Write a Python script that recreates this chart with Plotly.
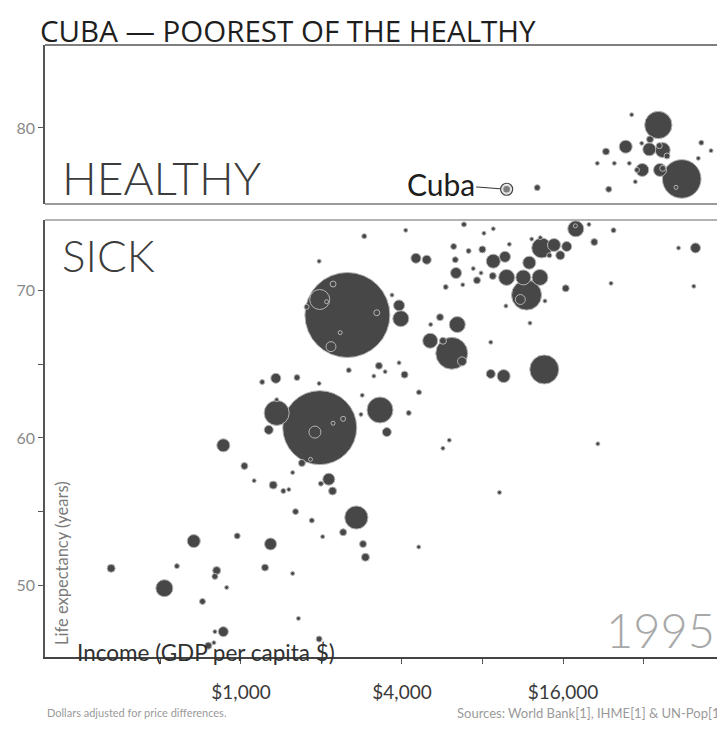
import plotly.graph_objects as go
import pandas as pd
import numpy as np


# ---------------------------------------------------
# DATA (1995): income per person, life expectancy, population (millions)
# ---------------------------------------------------

income = [
    2890, 4130, 6820, 8100, 8780, 1960, 4510, 4950, 6240, 7100,
    7990, 8780, 6330, 6370, 5830, 7630, 7900, 8740, 7390, 6750,
    3670, 2500, 1970, 2210, 3220, 2350, 2170, 1760, 2090, 3900,
    3960, 5550, 5120, 6440, 5100, 6140, 5690, 6710, 8590, 3280,
    2530, 3900, 3460, 4090, 3140, 1620, 1350, 1200, 8590, 9600,
    13620, 1960, 4630, 2840, 3310, 4240, 2810, 3510, 1970, 1890,
    2410, 2210, 1360, 1270, 1360, 859, 6010, 5690, 21600, 1030,
    1120, 1320, 1440, 1510, 1560, 1690, 1820, 1990, 2130, 2200,
    1600, 1840, 2700, 2410, 2020, 2860, 2920, 4620, 666, 968,
    1290, 1230, 1560, 327, 576, 811, 799, 884, 517, 718,
    1640, 859, 799, 755, 792, 1960, 9260, 13700, 12040, 9790,
    11690, 11080, 9850, 11370, 13120, 11970, 9710, 13320, 14810, 16520,
    15630, 12220, 13160, 14220, 10080, 17860, 17800, 20010, 24720, 20950,
    43260, 50070, 24190, 49340, 16380,
    12820, 23720, 36350, 28900, 27460, 23170, 21500, 24890, 28320, 31510,
    33850, 33640, 37750, 39180, 36660, 31670, 30260, 36880, 37750, 44470,
    42340, 52640, 57230, 51300, 29820,
]

life_expectancy = [
    73.7, 74.1, 74.5, 73.9, 74.2, 72.0, 72.2, 72.1, 73.0, 72.7,
    72.8, 72.0, 72.1, 71.2, 70.25, 70.7, 71.2, 71.0, 71.5, 70.4,
    69.7, 68.35, 69.4, 70.45, 68.5, 67.15, 66.2, 68.9, 69.25, 69.0,
    68.1, 68.2, 67.7, 67.7, 66.6, 65.75, 66.6, 65.2, 66.5, 64.9,
    64.6, 65.1, 64.5, 64.3, 64.2, 64.1, 64.05, 63.8, 64.35, 64.2,
    64.65, 63.7, 63.1, 62.9, 61.9, 61.7, 61.6, 60.4, 60.7, 60.4,
    61.3, 61.0, 61.7, 60.55, 62.6, 59.5, 59.85, 59.3, 59.6, 58.1,
    57.1, 56.8, 56.4, 56.5, 57.65, 58.3, 58.55, 56.9, 57.2, 56.4,
    55.0, 54.4, 54.6, 53.6, 53.3, 52.8, 51.9, 52.6, 53.0, 53.35,
    52.8, 51.2, 50.8, 51.15, 51.3, 51.0, 50.6, 49.85, 49.8, 48.9,
    47.75, 46.85, 46.85, 45.9, 46.1, 46.35, 56.3, 69.3, 67.8, 68.96,
    69.7, 69.4, 70.9, 70.9, 70.9, 71.9, 72.3, 72.9, 73.1, 73.0,
    72.4, 73.5, 73.6, 72.4, 73.15, 74.2, 74.4, 74.5, 74.1, 73.3,
    72.9, 72.9, 70.5, 70.3, 70.16,
    75.95, 75.84, 80.2, 80.9, 78.73, 78.4, 77.6, 77.6, 77.6, 78.96,
    79.23, 78.55, 78.5, 78.1, 78.8, 77.15, 77.15, 77.15, 77.26, 76.54,
    75.97, 79.0, 78.46, 77.94, 76.35,
]

population = [
    4.2, 2.7, 4.2, 0.7, 2.7, 2.7, 16.7, 13.6, 6.0, 4.2,
    8.2, 32.8, 6.0, 20.3, 4.2, 8.2, 2.7, 8.2, 0.7, 0.7,
    0.7, 1210, 67, 6.0, 6.0, 1.5, 16.7, 4.2, 2.7, 20.3,
    42.9, 8.2, 0.7, 42.9, 37.7, 171, 8.2, 13.6, 1.5, 8.2,
    4.2, 0.7, 0.7, 8.2, 0.7, 6.0, 16.7, 4.2, 13.6, 28.3,
    141, 1.5, 4.2, 1.5, 113, 4.2, 2.7, 13.6, 917, 24.1,
    4.2, 2.7, 105, 13.6, 0.7, 28.3, 1.5, 0.7, 1.5, 8.2,
    2.7, 10.7, 4.2, 2.7, 1.5, 8.2, 1.5, 4.2, 24.1, 10.7,
    6.0, 4.2, 90, 8.2, 2.7, 8.2, 10.7, 2.7, 28.3, 6.0,
    24.1, 8.2, 1.5, 10.7, 4.2, 10.7, 6.0, 2.7, 48.4, 6.0,
    0.7, 16.7, 2.7, 8.2, 1.5, 6.0, 1.5, 1.5, 1.5, 2.7,
    151, 16.7, 42.9, 37.7, 42.9, 28.3, 20.3, 67, 28.3, 16.7,
    13.6, 1.5, 1.5, 4.2, 0.7, 42.9, 2.7, 1.5, 4.2, 8.2,
    1.5, 16.7, 1.5, 1.5, 8.2,
    6.0, 6.0, 125, 0.7, 28.3, 8.2, 0.7, 2.7, 2.7, 1.5,
    8.2, 28.3, 37.7, 6.0, 6.0, 28.3, 4.2, 28.3, 6.0, 250,
    2.7, 4.2, 2.7, 1.5, 2.7,
]

cuba_income = [9850]
cuba_life = [75.84]
cuba_population = [11]

x_tick_values = [500, 1000, 2000, 4000, 8000, 16000, 32000]
x_tick_labels = ["", "$1,000", "", "$4,000", "", "$16,000", ""]
y_tick_values = [50, 55, 60, 65, 70]
y_tick_labels = ["50", "", "60", "", "70"]
y2_tick_values = [80]
y2_tick_labels = ["80"]

healthy_cut = 74.8


# ---------------------------------------------------
# STYLE
# ---------------------------------------------------

font_family = "Lato, 'Open Sans', sans-serif"
title_family = "'Open Sans', Lato, sans-serif"
bubble_fill = "#474747"
bubble_edge = "#b4b4b4"
max_bubble_px = 85


df = pd.DataFrame({
    "income": income,
    "life": life_expectancy,
    "pop": population,
})
df = df.sort_values("pop", ascending=False)

sizeref = 2.0 * df["pop"].max() / (max_bubble_px ** 2)

sick = df[df["life"] < healthy_cut]
healthy = df[df["life"] >= healthy_cut]


def bubble_trace(data, xaxis, yaxis):

    return go.Scatter(
        x=data["income"],
        y=data["life"],
        xaxis=xaxis,
        yaxis=yaxis,
        mode="markers",
        marker=dict(
            size=data["pop"],
            sizemode="area",
            sizeref=sizeref,
            sizemin=2,
            color=bubble_fill,
            opacity=1,
            line=dict(color=bubble_edge, width=1),
        ),
        hoverinfo="skip",
        showlegend=False,
    )


fig = go.Figure()

fig.add_trace(bubble_trace(sick, "x", "y"))
fig.add_trace(bubble_trace(healthy, "x2", "y2"))

# Cuba, highlighted
fig.add_trace(go.Scatter(
    x=cuba_income,
    y=cuba_life,
    xaxis="x2",
    yaxis="y2",
    mode="markers",
    marker=dict(
        size=cuba_population,
        sizemode="area",
        sizeref=sizeref,
        color=bubble_fill,
        line=dict(color="#cfcfcf", width=1.5),
    ),
    hoverinfo="skip",
    showlegend=False,
))

fig.add_trace(go.Scatter(
    x=cuba_income,
    y=cuba_life,
    xaxis="x2",
    yaxis="y2",
    mode="markers",
    marker=dict(symbol="circle-open", size=12, color="#444444",
                line=dict(width=1.2)),
    hoverinfo="skip",
    showlegend=False,
))


# ---------------------------------------------------
# AXES
# (the page body adds an 8px offset, so the figure is a bit smaller)
# ---------------------------------------------------

x_range = [np.log10(185), np.log10(64550)]

fig.update_layout(
    width=717,
    height=720,
    margin=dict(l=37, r=0, t=37, b=71, autoexpand=False),
    paper_bgcolor="white",
    plot_bgcolor="white",
    font=dict(family=font_family, color="#333333"),
    xaxis=dict(
        type="log",
        range=x_range,
        domain=[0, 1],
        anchor="y",
        automargin=False,
        tickvals=x_tick_values,
        ticktext=x_tick_labels,
        ticks="outside",
        ticklen=5,
        tickcolor="#555555",
        ticklabelstandoff=12,
        tickfont=dict(size=19, color="#3a3a3a", family=font_family),
        showgrid=False,
        zeroline=False,
        showline=True,
        linecolor="#444444",
        linewidth=1.5,
    ),
    yaxis=dict(
        range=[45.13, healthy_cut],
        domain=[0, 0.7141],
        anchor="x",
        automargin=False,
        tickvals=y_tick_values,
        ticktext=y_tick_labels,
        ticks="outside",
        ticklen=5,
        tickcolor="#555555",
        tickfont=dict(size=16, color="#8a8a8a", family=font_family),
        showgrid=False,
        zeroline=False,
        showline=True,
        linecolor="#555555",
        linewidth=1.5,
    ),
    xaxis2=dict(
        type="log",
        range=x_range,
        matches="x",
        domain=[0, 1],
        anchor="y2",
        automargin=False,
        showticklabels=False,
        ticks="",
        showgrid=False,
        zeroline=False,
        showline=False,
    ),
    yaxis2=dict(
        range=[74.84, 85.63],
        domain=[0.7402, 1],
        anchor="x2",
        automargin=False,
        tickvals=y2_tick_values,
        ticktext=y2_tick_labels,
        ticks="outside",
        ticklen=5,
        tickcolor="#555555",
        tickfont=dict(size=16, color="#8a8a8a", family=font_family),
        showgrid=False,
        zeroline=False,
        showline=True,
        linecolor="#555555",
        linewidth=1.5,
    ),
)

# panel borders
fig.add_shape(type="line", xref="paper", yref="paper",
              x0=0, x1=1, y0=1, y1=1,
              line=dict(color="#555555", width=1.5))
fig.add_shape(type="line", xref="paper", yref="paper",
              x0=0, x1=1, y0=0.7402, y1=0.7402,
              line=dict(color="#9a9a9a", width=2))
fig.add_shape(type="line", xref="paper", yref="paper",
              x0=0, x1=1, y0=0.7141, y1=0.7141,
              line=dict(color="#9a9a9a", width=1.5))


# ---------------------------------------------------
# TEXT
# ---------------------------------------------------

def paper_text(text, x, y, size, color, xanchor="left", yanchor="middle",
               weight="normal", angle=0, family=font_family):

    fig.add_annotation(
        text=text, x=x, y=y, xref="paper", yref="paper",
        xanchor=xanchor, yanchor=yanchor, showarrow=False,
        textangle=angle,
        font=dict(size=size, color=color, family=family, weight=weight),
    )


paper_text("CUBA — POOREST OF THE HEALTHY", -0.0103, 1.0245, 29.5, "#1e1e1e",
           family=title_family)
paper_text("HEALTHY", 0.022, 0.7827, 46, "#3c3c3c", weight=300)
paper_text("SICK", 0.022, 0.657, 44, "#3c3c3c", weight=300)
paper_text("1995", 0.988, 0.0441, 47, "#a8a8a8", xanchor="right", weight=300)
paper_text("Life expectancy (years)", 0.025, 0.1536, 16.5, "#7a7a7a",
           xanchor="center", angle=-90)
paper_text("Income (GDP per capita $)", 0.0441, 0.008, 22.5, "#303030")
paper_text("Dollars adjusted for price differences.", 0.0, -0.0915, 11,
           "#9a9a9a")
paper_text("Sources: World Bank[1], IHME[1] & UN-Pop[1]", 0.603, -0.0915, 13,
           "#9a9a9a")

fig.add_annotation(
    text="Cuba",
    x=np.log10(cuba_income[0]),
    y=cuba_life[0],
    xref="x2",
    yref="y2",
    showarrow=True,
    arrowhead=0,
    arrowwidth=1,
    arrowcolor="#333333",
    ax=-66,
    ay=-5,
    standoff=6,
    font=dict(size=30, color="#1e1e1e", family=font_family),
)

fig.write_html("out.html")
